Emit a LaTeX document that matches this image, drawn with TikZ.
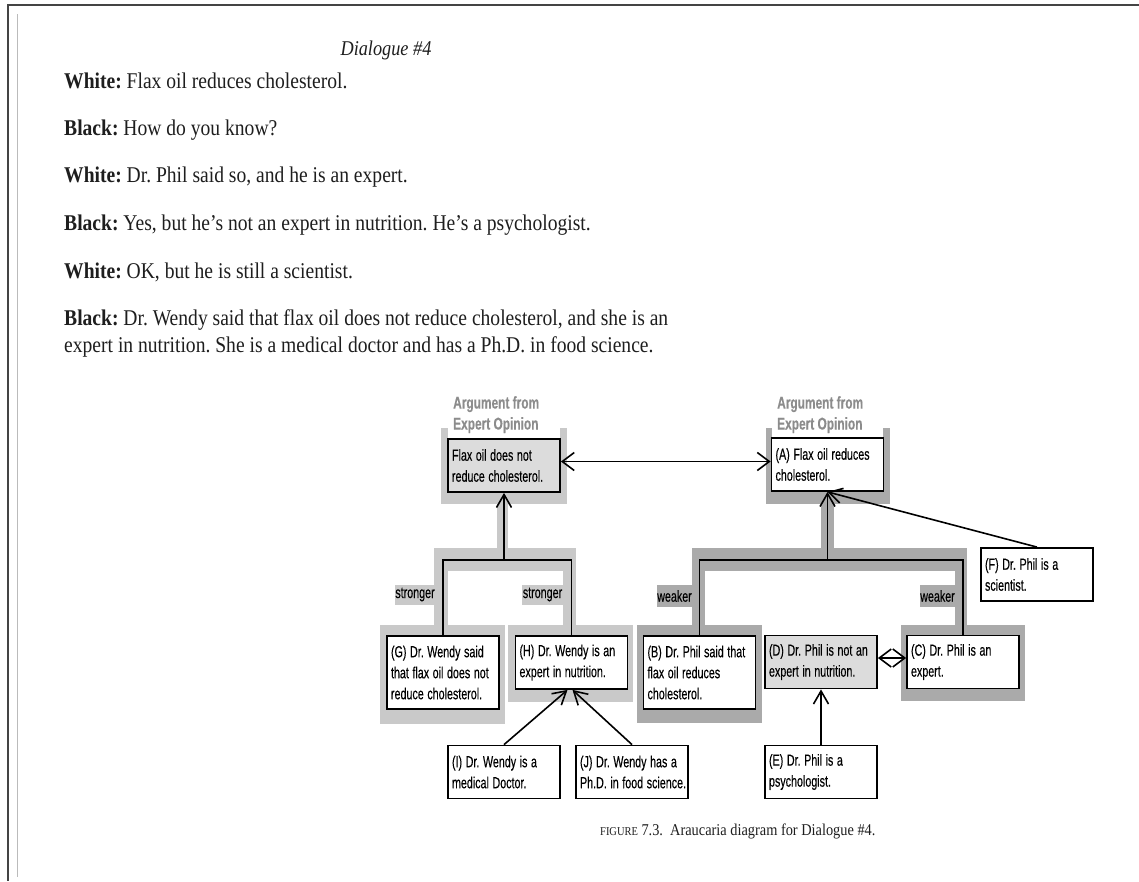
\documentclass[tikz,border=0pt]{standalone}
\usepackage{fontspec}
\usepackage{graphicx}
\setmainfont{Liberation Serif}
\newfontfamily\bodyfont[FakeStretch=0.87]{Liberation Serif}
\newfontfamily\diagfont[FakeBold=0.3]{Liberation Sans}
\usetikzlibrary{arrows.meta}
\definecolor{bandlight}{HTML}{C9C9C9}
\definecolor{banddark}{HTML}{AAAAAA}
\definecolor{boxgray}{HTML}{DCDCDC}
\definecolor{labelgray}{HTML}{8C8C8C}
\definecolor{framegray}{HTML}{444444}
\definecolor{frameinner}{HTML}{BBBBBB}
\definecolor{ink}{HTML}{1E1E1E}
\frenchspacing
\newcommand{\bodysize}{\bodyfont\fontsize{22.5}{27}\selectfont}
\newcommand{\diagsize}{\diagfont\fontsize{16}{21}\selectfont}
\newcommand{\argsize}{\diagfont\fontsize{17}{21}\selectfont\bfseries}
\newcommand{\sq}[1]{\scalebox{0.67}[1]{#1}}
\newcommand{\sqa}[1]{\scalebox{0.7}[1]{#1}}
\begin{document}
\begin{tikzpicture}[x=1pt,y=-1pt,
  bodytxt/.style={inner sep=0pt, text=ink, font=\bodysize},
  box/.style={draw=black, line width=1.8pt, fill=white, text=black,
    font=\diagsize, text width=104pt, align=left,
    inner xsep=4pt, inner ysep=0pt, minimum height=53pt},
  box3/.style={box, minimum height=73pt},
  tag/.style={inner sep=0pt, text=black, font=\diagsize, minimum height=20pt},
  arglbl/.style={inner sep=0pt, text=labelgray, font=\argsize, align=left},
  ln/.style={line width=1.6pt, draw=black},
  arr/.style={ln, -{Straight Barb[length=13pt,width=15pt]}},
  darr/.style={ln, {Straight Barb[length=12pt,width=18pt]}-{Straight Barb[length=12pt,width=18pt]}}
]
\useasboundingbox (0,0) rectangle (1139,881);
\fill[white] (0,0) rectangle (1139,881);

% page frame
\draw[framegray, line width=2pt] (7,5) -- (1139,5);
\draw[framegray, line width=2pt] (8,4) -- (8,881);
\draw[frameinner, line width=1pt] (17,14) -- (17,877);

% dialogue text
\node[bodytxt, anchor=base, font=\bodyfont\fontsize{21}{25}\selectfont] (title) at (386,55) {\itshape Dialogue \#4};
\node[bodytxt, anchor=base west] (l1) at (64,88.5) {\textbf{White:} Flax oil reduces cholesterol.};
\node[bodytxt, anchor=base west] (l2) at (64,135.5) {\textbf{Black:} How do you know?};
\node[bodytxt, anchor=base west] (l3) at (64,182.5) {\textbf{White:} Dr. Phil said so, and he is an expert.};
\node[bodytxt, anchor=base west] (l4) at (64,230.5) {\textbf{Black:} Yes, but he’s not an expert in nutrition. He’s a psychologist.};
\node[bodytxt, anchor=base west] (l5) at (64,278.5) {\textbf{White:} OK, but he is still a scientist.};
\node[bodytxt, anchor=base west] (l6) at (64,325.5) {\textbf{Black:} Dr. Wendy said that flax oil does not reduce cholesterol, and she is an};
\node[bodytxt, anchor=base west] (l7) at (64,352) {expert in nutrition. She is a medical doctor and has a Ph.D. in food science.};

% scheme backgrounds, left (light)
\fill[bandlight] (441,428) rectangle (567,504);
\fill[white] (448,428) rectangle (560,439);
\fill[bandlight] (497,504) rectangle (508,548);
\fill[bandlight] (434,548) rectangle (576,571);
\fill[bandlight] (434,571) rectangle (448,625);
\fill[bandlight] (563,571) rectangle (576,625);
\fill[bandlight] (380,625) rectangle (505,724);
\fill[bandlight] (508,625) rectangle (633,702);
% scheme backgrounds, right (dark)
\fill[banddark] (766,428) rectangle (890,504);
\fill[white] (772,428) rectangle (883,438);
\fill[banddark] (821,504) rectangle (834,548);
\fill[banddark] (692,548) rectangle (967,571);
\fill[banddark] (692,571) rectangle (705,625);
\fill[banddark] (955,571) rectangle (967,625);
\fill[banddark] (637,625) rectangle (762,723);
\fill[banddark] (901,625) rectangle (1025,701);

% scheme labels
\node[arglbl, anchor=north west] (argL) at (453,396) {\sqa{Argument from}\\\sqa{Expert Opinion}};
\node[arglbl, anchor=north west] (argR) at (777,396) {\sqa{Argument from}\\\sqa{Expert Opinion}};
\node[tag, fill=bandlight, minimum width=40pt] (s1) at (415,594.5) {\sq{stronger}};
\node[tag, fill=bandlight, minimum width=41pt] (s2) at (542.5,594.5) {\sq{stronger}};
\node[tag, fill=banddark, minimum width=35pt, minimum height=22pt] (w1) at (674.5,596) {\sq{weaker}};
\node[tag, fill=banddark, minimum width=35pt, minimum height=22pt] (w2) at (937.5,596) {\sq{weaker}};

% statement boxes
\node[box, fill=boxgray] (L) at (504,465.5) {\sq{Flax oil does not}\\\sq{reduce cholesterol.}};
\node[box] (A) at (827.5,464.5) {\sq{(A) Flax oil reduces}\\\sq{cholesterol.}};
\node[box3] (G) at (443,672.5) {\sq{(G) Dr. Wendy said}\\\sq{that flax oil does not}\\\sq{reduce cholesterol.}};
\node[box] (H) at (571.5,662.5) {\sq{(H) Dr. Wendy is an}\\\sq{expert in nutrition.}};
\node[box3] (B) at (699.5,672.5) {\sq{(B) Dr. Phil said that}\\\sq{flax oil reduces}\\\sq{cholesterol.}};
\node[box, fill=boxgray] (D) at (821,662) {\sq{(D) Dr. Phil is not an}\\\sq{expert in nutrition.}};
\node[box] (C) at (963,662) {\sq{(C) Dr. Phil is an}\\\sq{expert.}};
\node[box] (F) at (1037,574.5) {\sq{(F) Dr. Phil is a}\\\sq{scientist.}};
\node[box] (I) at (504,772) {\sq{(I) Dr. Wendy is a}\\\sq{medical Doctor.}};
\node[box] (J) at (632,772) {\sq{(J) Dr. Wendy has a}\\\sq{Ph.D. in food science.}};
\node[box] (E) at (821,772) {\sq{(E) Dr. Phil is a}\\\sq{psychologist.}};

% connectors
\coordinate (barL) at (504,560);
\coordinate (barR) at (827.5,560);
\draw[ln] (G.north) -- (G.north |- barL) -- (H.north |- barL) -- (H.north);
\draw[arr] (barL) -- (L.south);
\draw[ln] (B.north) -- (B.north |- barR) -- (C.north |- barR) -- (C.north);
\draw[arr] (barR) -- (A.south);
\draw[darr] ([yshift=4pt]L.east) -- ([yshift=4pt]L.east -| A.west);
\draw[arr] (F.north) -- (A.south);
\draw[darr] ([yshift=4pt]D.east) -- ([yshift=4pt]D.east -| C.west);
\draw[arr] (E.north) -- (D.south);
\draw[arr] (I.north) -- ([xshift=-4pt]H.south);
\draw[arr] (J.north) -- ([xshift=1pt]H.south);

% caption
\node[anchor=base west, inner sep=0pt, text=ink, font=\bodyfont\fontsize{16.5}{19}\selectfont] (cap) at (600,835)
  {{\fontsize{12}{14}\selectfont FIGURE} 7.3.\ \ Araucaria diagram for Dialogue \#4.};
\end{tikzpicture}
\end{document}
